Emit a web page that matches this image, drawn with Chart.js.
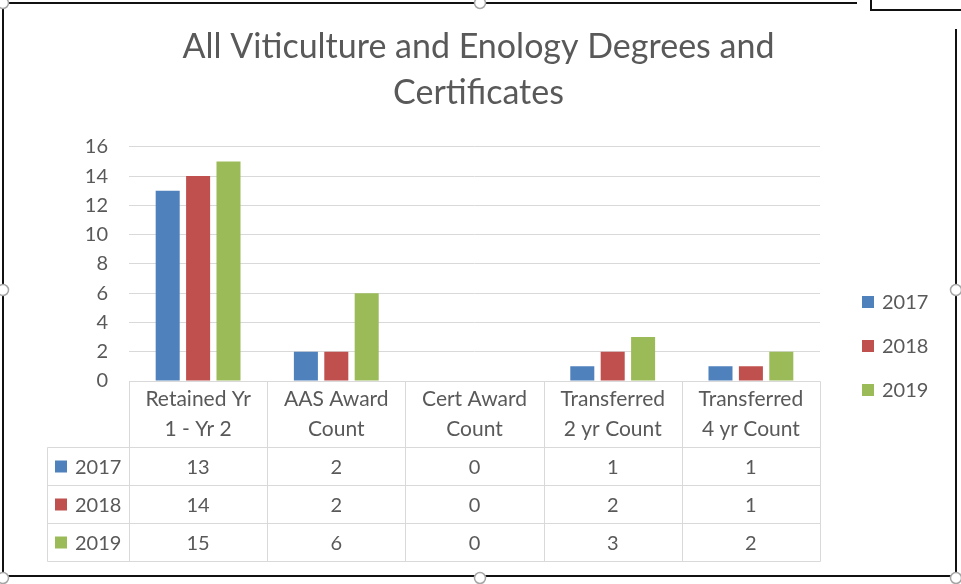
<!DOCTYPE html>
<html lang="en">
<head>
  <meta charset="UTF-8" />
  <title>All Viticulture and Enology Degrees and Certificates</title>
  <script src="https://cdn.jsdelivr.net/npm/chart.js"></script>
  <style>
    body {
      margin: 0;
      background: #fff;
    }
    canvas {
      display: block;
    }
  </style>
</head>
<body>
  <canvas id="degreeChart" width="961" height="584"></canvas>

  <script>
    // chart data
    const categories = [
      ['Retained Yr', '1 - Yr 2'],
      ['AAS Award', 'Count'],
      ['Cert Award', 'Count'],
      ['Transferred', '2 yr Count'],
      ['Transferred', '4 yr Count']
    ];
    const years = ['2017', '2018', '2019'];
    const counts2017 = [13, 2, 0, 1, 1];
    const counts2018 = [14, 2, 0, 2, 1];
    const counts2019 = [15, 6, 0, 3, 2];
    const yMax = 16;
    const yStep = 2;

    const textGrey = '#595959';
    const lineGrey = '#d9d9d9';
    const colors = ['#4f81bd', '#c0504d', '#9bbb59'];
    Chart.defaults.font.family = 'Lato, "Open Sans", sans-serif';
    Chart.defaults.color = textGrey;

    // keep the title centred on the whole picture, not only left of the legend
    const titleCenter = {
      id: 'titleCenter',
      afterLayout(chart) {
        chart.titleBlock.left = 0;
        chart.titleBlock.right = 957;
        chart.titleBlock.width = 957;
      }
    };

    // white background + the selection frame with its handles
    const frame = {
      id: 'frame',
      beforeDraw(chart) {
        const ctx = chart.ctx;
        ctx.save();
        ctx.fillStyle = '#fff';
        ctx.fillRect(0, 0, chart.width, chart.height);
        ctx.restore();
      },
      afterDraw(chart) {
        const ctx = chart.ctx;
        ctx.save();
        ctx.strokeStyle = '#111';
        ctx.lineWidth = 2;
        ctx.beginPath();
        ctx.moveTo(0, 3); ctx.lineTo(857, 3);
        ctx.moveTo(3, 3); ctx.lineTo(3, 576);
        ctx.moveTo(3, 576); ctx.lineTo(956, 576);
        ctx.moveTo(956, 29); ctx.lineTo(956, 576);
        ctx.moveTo(871, 0); ctx.lineTo(871, 10); ctx.lineTo(961, 10);
        ctx.stroke();

        const handles = [[3, 3], [480, 3], [3, 290], [956, 290], [3, 578], [480, 578], [956, 578]];
        ctx.lineWidth = 1.5;
        ctx.strokeStyle = '#a6a6a6';
        ctx.fillStyle = '#fff';
        handles.forEach(([hx, hy]) => {
          ctx.beginPath();
          ctx.arc(hx, hy, 5.5, 0, Math.PI * 2);
          ctx.fill();
          ctx.stroke();
        });
        ctx.restore();
      }
    };

    // Excel style data table under the plot
    const dataTable = {
      id: 'dataTable',
      afterDraw(chart) {
        const { ctx, chartArea } = chart;
        const xScale = chart.scales.x;
        const colW = (chartArea.right - chartArea.left) / categories.length;
        const top = Math.round(chartArea.bottom) + 0.5;
        const headH = 66;
        const rowH = 38;
        const keyLeft = 47.5;
        const left = Math.round(chartArea.left) + 0.5;
        const right = Math.round(chartArea.right) + 0.5;
        const bottom = top + headH + rowH * years.length;

        ctx.save();
        ctx.strokeStyle = lineGrey;
        ctx.lineWidth = 1;
        ctx.beginPath();
        ctx.moveTo(left, top); ctx.lineTo(right, top);
        for (let r = 0; r <= years.length; r++) {
          const y = top + headH + rowH * r;
          ctx.moveTo(keyLeft, y); ctx.lineTo(right, y);
        }
        ctx.moveTo(keyLeft, top + headH); ctx.lineTo(keyLeft, bottom);
        for (let c = 0; c <= categories.length; c++) {
          const x = Math.round(chartArea.left + colW * c) + 0.5;
          ctx.moveTo(x, top); ctx.lineTo(x, bottom);
        }
        ctx.stroke();

        ctx.font = '21px Lato, "Open Sans", sans-serif';
        ctx.fillStyle = textGrey;
        ctx.textBaseline = 'middle';
        ctx.textAlign = 'center';
        categories.forEach((lines, i) => {
          const cx = xScale.getPixelForValue(i);
          lines.forEach((line, j) => {
            ctx.fillText(line, cx, top + 18 + j * 30);
          });
        });

        ctx.font = '20px Lato, "Open Sans", sans-serif';
        chart.data.datasets.forEach((ds, r) => {
          const cy = top + headH + rowH * r + rowH / 2;
          ctx.fillStyle = ds.backgroundColor;
          ctx.fillRect(55, cy - 6, 12, 12);
          ctx.fillStyle = textGrey;
          ctx.textAlign = 'left';
          ctx.fillText(ds.label, 75, cy + 1);
          ctx.textAlign = 'center';
          ds.data.forEach((v, i) => {
            ctx.fillText(String(v), xScale.getPixelForValue(i), cy + 1);
          });
        });
        ctx.restore();
      }
    };

    // legend on the right, placed like the Excel one
    const sideLegend = {
      id: 'sideLegend',
      afterDraw(chart) {
        const ctx = chart.ctx;
        ctx.save();
        ctx.font = '20px Lato, "Open Sans", sans-serif';
        ctx.textBaseline = 'middle';
        ctx.textAlign = 'left';
        chart.data.datasets.forEach((ds, i) => {
          const cy = 302 + i * 44;
          ctx.fillStyle = ds.backgroundColor;
          ctx.fillRect(862, cy - 6, 12, 12);
          ctx.fillStyle = textGrey;
          ctx.fillText(ds.label, 882, cy + 1);
        });
        ctx.restore();
      }
    };

    const ctx = document.getElementById('degreeChart').getContext('2d');
    const chart = new Chart(ctx, {
      type: 'bar',
      data: {
        labels: categories,
        datasets: [
          { label: years[0], data: counts2017, backgroundColor: colors[0] },
          { label: years[1], data: counts2018, backgroundColor: colors[1] },
          { label: years[2], data: counts2019, backgroundColor: colors[2] }
        ]
      },
      options: {
        responsive: false,
        animation: false,
        datasets: {
          bar: {
            categoryPercentage: 0.66,
            barPercentage: 0.79
          }
        },
        layout: {
          padding: { top: 0, left: 0, right: 141, bottom: 203 }
        },
        plugins: {
          legend: { display: false },
          tooltip: { enabled: false },
          title: {
            display: true,
            text: ['All Viticulture and Enology Degrees and', 'Certificates'],
            color: textGrey,
            font: { size: 34, weight: 'normal', lineHeight: 1.35 },
            padding: { top: 24, bottom: 31 }
          }
        },
        scales: {
          x: {
            display: false
          },
          y: {
            min: 0,
            max: yMax,
            border: { display: false },
            grid: { color: lineGrey, drawTicks: false },
            ticks: {
              stepSize: yStep,
              padding: 21,
              color: textGrey,
              font: { size: 20 }
            },
            afterFit(scale) {
              scale.width = 129;
            }
          }
        }
      },
      plugins: [frame, titleCenter, dataTable, sideLegend]
    });
  </script>
</body>
</html>
